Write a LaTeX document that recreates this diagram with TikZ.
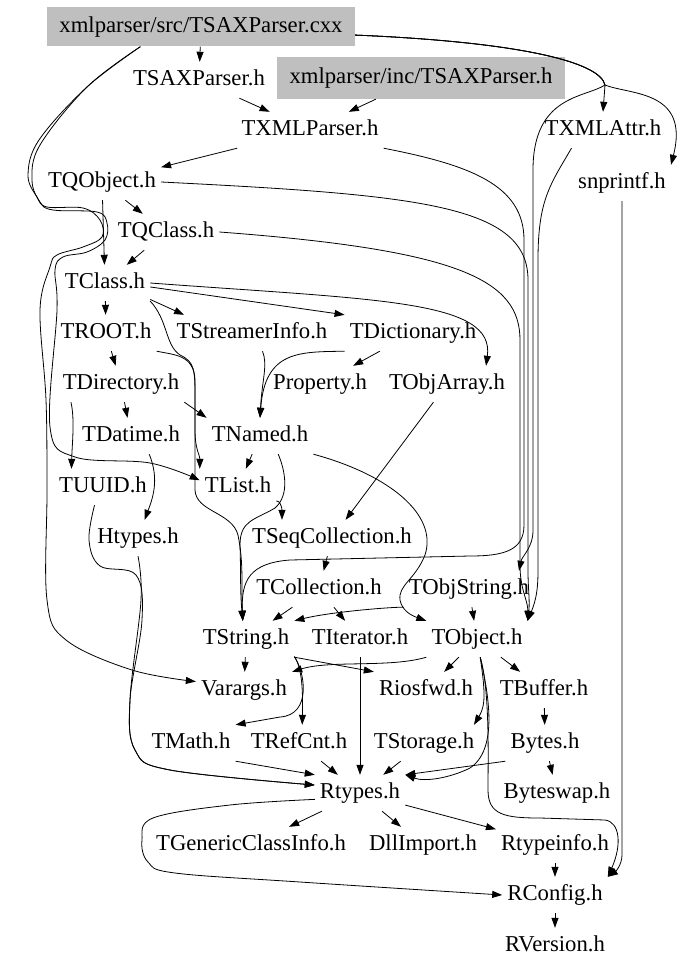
\documentclass[tikz,border=0pt]{standalone}
\usepackage{fontspec}
\setmainfont{Liberation Serif}
\usetikzlibrary{arrows.meta}
\definecolor{boxgray}{RGB}{191,191,191}
\begin{document}
\begin{tikzpicture}[x=1pt, y=-1pt,
	hdr/.style={inner xsep=5pt, inner ysep=0pt, minimum height=36pt, text height=16pt, text depth=5pt, font=\fontsize{22.7}{26}\selectfont},
	root/.style={hdr, fill=boxgray},
	dep/.style={-{Triangle[length=10pt,width=7pt]}, line width=0.8pt}]
	
	\useasboundingbox (0,0) rectangle (682,971);
	
	\node[root, minimum width=308pt, minimum height=39pt] (src) at (201,27) {xmlparser/src/TSAXParser.cxx};
	\node[root, minimum width=288pt, minimum height=42pt] (inc) at (421,78) {xmlparser/inc/TSAXParser.h};
	
	\node[hdr] (TSAXParser) at (199,80) {TSAXParser.h};
	\node[hdr] (TXMLParser) at (310,130) {TXMLParser.h};
	\node[hdr] (TXMLAttr) at (603,130) {TXMLAttr.h};
	\node[hdr] (TQObject) at (102,182) {TQObject.h};
	\node[hdr] (snprintf) at (622,183) {snprintf.h};
	\node[hdr] (TQClass) at (166,232) {TQClass.h};
	\node[hdr] (TClass) at (105,283) {TClass.h};
	\node[hdr] (TROOT) at (106,333) {TROOT.h};
	\node[hdr] (TStreamerInfo) at (252,333) {TStreamerInfo.h};
	\node[hdr] (TDictionary) at (413,333) {TDictionary.h};
	\node[hdr] (TDirectory) at (121,384) {TDirectory.h};
	\node[hdr] (Property) at (320,384) {Property.h};
	\node[hdr] (TObjArray) at (447,384) {TObjArray.h};
	\node[hdr] (TDatime) at (131,436) {TDatime.h};
	\node[hdr] (TNamed) at (260,436) {TNamed.h};
	\node[hdr] (TUUID) at (103,487) {TUUID.h};
	\node[hdr] (TList) at (238,487) {TList.h};
	\node[hdr] (Htypes) at (138,538) {Htypes.h};
	\node[hdr] (TSeqCollection) at (332,538) {TSeqCollection.h};
	\node[hdr] (TCollection) at (319,589) {TCollection.h};
	\node[hdr] (TObjString) at (469,589) {TObjString.h};
	\node[hdr] (TString) at (246,639) {TString.h};
	\node[hdr] (TIterator) at (360,639) {TIterator.h};
	\node[hdr] (TObject) at (477,639) {TObject.h};
	\node[hdr] (Varargs) at (244,690) {Varargs.h};
	\node[hdr] (Riosfwd) at (426,690) {Riosfwd.h};
	\node[hdr] (TBuffer) at (544,690) {TBuffer.h};
	\node[hdr] (TMath) at (191,743) {TMath.h};
	\node[hdr] (TRefCnt) at (299,743) {TRefCnt.h};
	\node[hdr] (TStorage) at (424,743) {TStorage.h};
	\node[hdr] (Bytes) at (545,743) {Bytes.h};
	\node[hdr] (Rtypes) at (360,793) {Rtypes.h};
	\node[hdr] (Byteswap) at (557,793) {Byteswap.h};
	\node[hdr] (TGenericClassInfo) at (251,845) {TGenericClassInfo.h};
	\node[hdr] (DllImport) at (423,845) {DllImport.h};
	\node[hdr] (Rtypeinfo) at (555,845) {Rtypeinfo.h};
	\node[hdr] (RConfig) at (555,895) {RConfig.h};
	\node[hdr] (RVersion) at (555,946) {RVersion.h};
	
	\coordinate (fork) at (605,85);
	
	% from the source file
	\draw[dep] (src) -- (TSAXParser);
	\draw[dep] (src.-3) .. controls (520,42) and (600,62) .. (fork) -- (TXMLAttr.north);
	\draw[dep] (src.-3) .. controls (520,42) and (600,62) .. (fork) .. controls (630,95) and (690,90) .. (snprintf.north east);
	\draw[dep] (src.-3) .. controls (520,42) and (600,62) .. (fork) .. controls (585,98) and (533,95) .. (533,170) -- (533,530) .. controls (533,548) and (522,556) .. (TObjString.20);
	\draw[dep] plot[smooth, tension=0.6] coordinates {(src.-162) (87,87) (40,145) (32,180) (40,202) (53,210) (97,212) (107,223) (105,240) (87,252) (63,257) (55,270) (57,310) (50,427) (75,457) (150,463) (TList.170)};
	\draw[dep] plot[smooth, tension=0.6] coordinates {(src.-162) (87,87) (39,140) (28,175) (37,197) (47,207) (83,208) (100,220) (102,237) (83,247) (57,255) (50,267) (40,310) (46,400) (47,490) (47,600) (66,640) (132,670) (Varargs.170)};
	
	\draw[dep] (TSAXParser) -- (TXMLParser);
	\draw[dep] (inc) -- (TXMLParser);
	\draw[dep] (TXMLParser) -- (TQObject);
	\draw[dep] (TXMLParser.south east) .. controls (470,165) and (524,185) .. (524,240) -- (524,525) .. controls (524,550) and (505,556) .. (470,556) -- (290,560) .. controls (250,563) and (241,580) .. (TString.100);
	\draw[dep] (TXMLAttr.-150) .. controls (550,185) and (538,200) .. (538,260) -- (538,570) .. controls (538,590) and (536,600) .. (TObject.north east);
	\draw[dep] (TQObject) -- (TQClass);
	\draw[dep] (TQObject) -- (TClass);
	\draw[dep] (TQObject.east) .. controls (420,195) and (528,205) .. (528,280) -- (528,570) .. controls (528,590) and (530,600) .. (TObject.north east);
	\draw[dep] (TQClass) -- (TClass);
	\draw[dep] (TQClass.east) .. controls (460,250) and (520,280) .. (520,340) -- (520,565) .. controls (520,590) and (528,600) .. (TObject.north east);
	
	% TClass and below
	\draw[dep] (TClass) -- (TROOT);
	\draw[dep] (TClass.-20) -- (TStreamerInfo.165);
	\draw[dep] (TClass.-5) -- (TDictionary.north west);
	\draw[dep] (TClass.east) .. controls (380,300) and (495,300) .. (TObjArray.25);
	\draw[dep] (TClass.south east) .. controls (168,320) and (165,345) .. (180,355) .. controls (195,362) and (195,370) .. (195,400) -- (195,490) .. controls (196,512) and (232,512) .. (238,535) .. controls (244,565) and (241,585) .. (TString.100);
	\draw[dep] (TROOT) -- (TDirectory);
	\draw[dep] (TROOT.south east) .. controls (175,355) and (194,355) .. (195,380) -- (195,430) .. controls (195,450) and (200,455) .. (TList.north west);
	\draw[dep] (TStreamerInfo.-60) .. controls (268,365) and (262,380) .. (TNamed.north);
	\draw[dep] (TDictionary.south west) .. controls (300,352) and (265,350) .. (TNamed.north);
	\draw[dep] (TDictionary) -- (Property);
	\draw[dep] (TObjArray) -- (TSeqCollection);
	\draw[dep] (TDirectory) -- (TDatime);
	\draw[dep] (TDirectory.south east) -- (TNamed.north west);
	\draw[dep] (TDirectory.-160) .. controls (75,420) and (72,445) .. (TUUID.150);
	\draw[dep] (TDatime.-45) .. controls (160,480) and (152,500) .. (Htypes.70);
	\draw[dep] (TNamed) -- (TList);
	\draw[dep] (TNamed.-45) .. controls (285,470) and (290,495) .. (275,508) .. controls (255,520) and (240,520) .. (240,545) .. controls (241,575) and (240,590) .. (TString.100);
	\draw[dep] (TNamed.south east) .. controls (390,475) and (438,515) .. (425,555) .. controls (415,580) and (398,585) .. (400,600) .. controls (402,610) and (410,615) .. (TObject.north west);
	\draw[dep] (TList.-20) .. controls (280,500) and (282,508) .. (TSeqCollection.160);
	\draw[dep] (TSeqCollection) -- (TCollection);
	\draw[dep] (TCollection) -- (TString);
	\draw[dep] (TCollection) -- (TIterator);
	\draw[dep] (TObjString) -- (TObject);
	\draw[dep] (TObjString.south west) .. controls (390,607) and (330,612) .. (TString.north east);
	
	% TString and TObject
	\draw[dep] (TString) -- (Varargs);
	\draw[dep] (TString.south east) -- (Riosfwd.north west);
	\draw[dep] (TString.-20) .. controls (302,668) and (303,690) .. (TRefCnt.80);
	\draw[dep] (TString.-20) .. controls (305,672) and (312,715) .. (280,717) -- (TMath.north east);
	\draw[dep] (TObject.south west) .. controls (390,668) and (330,660) .. (Varargs.north east);
	\draw[dep] (TObject) -- (Riosfwd);
	\draw[dep] (TObject) -- (TBuffer);
	\draw[dep] (TObject.-80) .. controls (485,690) and (486,705) .. (TStorage.20);
	\draw[dep] (TObject.-80) .. controls (490,700) and (497,750) .. (470,768) .. controls (450,778) and (425,782) .. (Rtypes.north east);
	\draw[dep] (TObject.-80) .. controls (490,690) and (488,760) .. (488,790) .. controls (488,815) and (505,818) .. (540,818) -- (605,820) .. controls (620,822) and (622,845) .. (RConfig.north east);
	\draw[dep] (TBuffer) -- (Bytes);
	
	% into Rtypes.h
	\draw[dep] plot[smooth, tension=0.6] coordinates {(TUUID.-115) (89,540) (100,566) (136,575) (142,620) (130,700) (135,750) (170,770) (Rtypes.170)};
	\draw[dep] plot[smooth, tension=0.6] coordinates {(Htypes.south) (141,600) (130,700) (135,750) (170,770) (Rtypes.170)};
	\draw[dep] (TMath.south east) -- (Rtypes.north west);
	\draw[dep] (TRefCnt) -- (Rtypes);
	\draw[dep] (TIterator) -- (Rtypes);
	\draw[dep] (TStorage) -- (Rtypes);
	\draw[dep] (Bytes.south west) -- (Rtypes.north east);
	\draw[dep] (Bytes) -- (Byteswap);
	
	% Rtypes.h and below
	\draw[dep] (Rtypes) -- (TGenericClassInfo);
	\draw[dep] (Rtypes) -- (DllImport);
	\draw[dep] (Rtypes) -- (Rtypeinfo);
	\draw[dep] plot[smooth, tension=0.6] coordinates {(Rtypes.188) (230,805) (153,818) (142,840) (148,862) (175,873) (300,882) (RConfig.west)};
	\draw[dep] (snprintf.south) -- (622,855) .. controls (622,865) and (615,872) .. (RConfig.north east);
	\draw[dep] (Rtypeinfo) -- (RConfig);
	\draw[dep] (RConfig) -- (RVersion);
	
\end{tikzpicture}
\end{document}
